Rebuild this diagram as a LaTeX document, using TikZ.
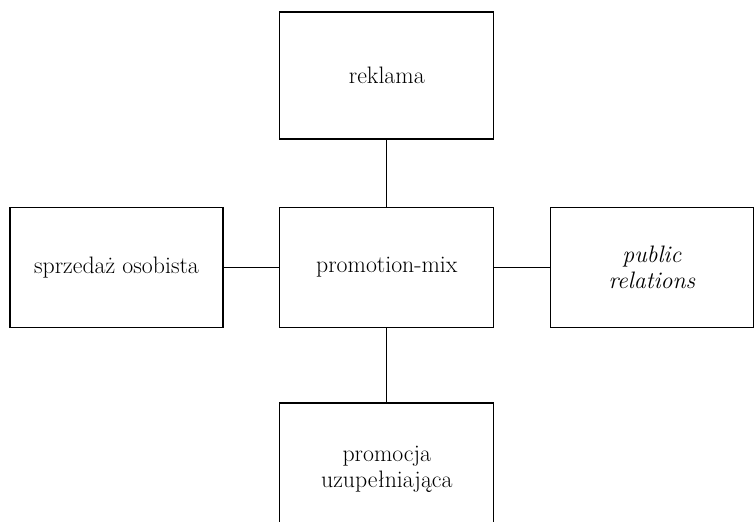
\documentclass[tikz,border=0pt]{standalone}
\usepackage{fontspec}
\begin{document}
\begin{tikzpicture}[x=1pt,y=-1pt,
  box/.style={draw, line width=1.2pt, minimum width=214pt, minimum height=120pt,
    inner sep=0pt, align=center, font=\fontsize{23.8}{26.5}\selectfont},
  link/.style={line width=1.2pt}]
\useasboundingbox (0,0) rectangle (756,522);
\clip (0,0) rectangle (756,522);
\node[box, minimum height=127pt] (rek) at (386.8,75.5) {reklama};
\node[box] (pm) at (386.8,267.5) {promotion-mix};
\node[box, minimum width=213pt] (sp) at (116.5,267.5) {sprzedaż osobista};
\node[box, minimum width=203pt] (pr) at (652,267.5) {\textit{public}\\\textit{relations}};
\node[box, minimum height=133pt] (pu) at (386.8,469.5) {promocja\\uzupełniająca};
\draw[link] (rek) -- (pm);
\draw[link] (sp) -- (pm);
\draw[link] (pm) -- (pr);
\draw[link] (pm) -- (pu);
\end{tikzpicture}
\end{document}
